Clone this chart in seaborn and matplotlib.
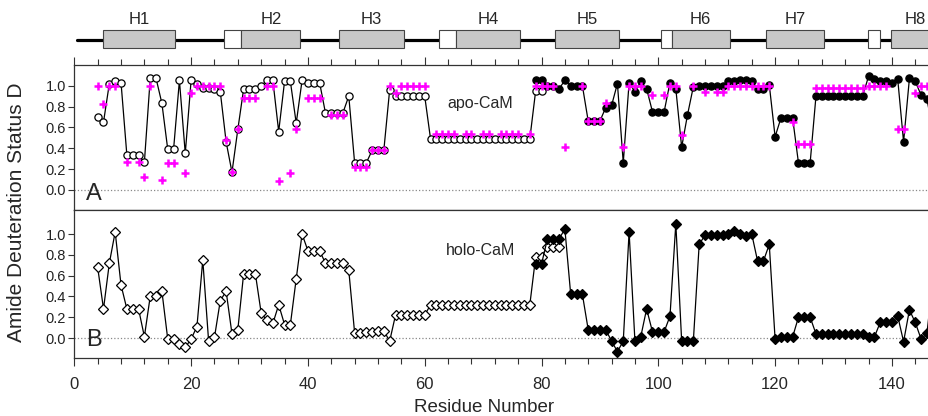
import numpy as np
import pandas as pd
import seaborn as sns
import matplotlib.pyplot as plt
from matplotlib.patches import Rectangle
from matplotlib.ticker import MultipleLocator

# helix schematic (residue ranges)
helix_names = ['H1', 'H2', 'H3', 'H4', 'H5', 'H6', 'H7', 'H8']
helix_start = [5.0, 28.6, 45.3, 65.4, 82.3, 102.3, 118.4, 139.9]
helix_end = [17.2, 38.7, 56.4, 76.4, 93.2, 112.2, 128.4, 148.0]
loop_start = [25.6, 62.4, 100.4, 135.9]
loop_end = [28.6, 65.4, 102.3, 137.9]

# panel A: apo-CaM
apo_open_res = np.arange(4, 81)
apo_open_val = [0.70, 0.65, 1.02, 1.04, 1.03, 0.335, 0.335,
                0.335, 0.265, 1.07, 1.07, 0.83, 0.39, 0.39, 1.05, 0.35, 1.05,
                1.02, 0.98, 0.98, 0.97, 0.94, 0.46, 0.17, 0.58, 0.97, 0.97,
                0.97, 1.00, 1.05, 1.05, 0.56, 1.04, 1.04, 0.64, 1.05, 1.03,
                1.03, 1.03, 0.74, 0.74, 0.74, 0.74, 0.90, 0.26, 0.26, 0.26,
                0.38, 0.38, 0.38, 0.96, 0.90, 0.90, 0.90, 0.90, 0.90, 0.90,
                0.49, 0.49, 0.49, 0.49, 0.49, 0.49, 0.49, 0.49, 0.49, 0.49,
                0.49, 0.49, 0.49, 0.49, 0.49, 0.49, 0.49, 0.49, 0.95, 0.95]
apo_fill_res = np.arange(79, 148)
apo_fill_val = [1.05, 1.05, 1.00, 1.00, 0.97, 1.05, 1.00, 1.00, 1.00, 0.66,
                0.66, 0.66, 0.79, 0.81, 1.02, 0.26, 1.03, 0.94, 1.04, 0.97,
                0.75, 0.75, 0.75, 1.03, 0.97, 0.41, 0.72, 0.99, 1.00, 1.00,
                1.00, 1.00, 1.00, 1.04, 1.04, 1.05, 1.05, 1.04, 0.97, 0.97,
                1.01, 0.51, 0.69, 0.69, 0.69, 0.26, 0.26, 0.26, 0.90, 0.90,
                0.90, 0.90, 0.90, 0.90, 0.90, 0.90, 0.90, 1.09, 1.06, 1.04,
                1.04, 1.03, 1.06, 0.46, 1.07, 1.04, 0.91, 0.87, 0.58]
cross_res = [4, 5, 6, 7, 9, 11, 12, 13, 15, 16, 17, 19, 20, 21, 22, 23, 24, 25,
             26, 27, 28, 29, 30, 31, 33, 34, 35, 37, 38, 40, 41, 42, 44, 45, 46,
             48, 49, 50, 51, 52, 53, 54, 55, 56, 57, 58, 59, 60, 62, 63, 64, 65,
             67, 68, 70, 71, 73, 74, 75, 76, 78, 79, 80, 81, 82, 84, 87, 88, 89,
             90, 91, 94, 95, 96, 97, 99, 101, 102, 103, 104, 106, 108, 110, 111,
             112, 113, 114, 115, 116, 117, 118, 119, 123, 124, 125, 126, 127,
             128, 129, 130, 131, 132, 133, 134, 135, 136, 137, 138, 139, 141,
             142, 144, 145, 146]
cross_val = [1.00, 0.82, 1.00, 1.00, 0.265, 0.265, 0.12, 1.00, 0.10, 0.255, 0.255,
             0.16, 0.93, 1.00, 1.00, 1.00, 1.00, 1.00, 0.48, 0.17, 0.58, 0.885,
             0.885, 0.885, 1.00, 1.00, 0.086, 0.16, 0.585, 0.885, 0.885, 0.885,
             0.72, 0.72, 0.72, 0.22, 0.22, 0.22, 0.38, 0.38, 0.38, 1.00, 0.93,
             1.00, 1.00, 1.00, 1.00, 1.00, 0.54, 0.54, 0.54, 0.54, 0.54, 0.54,
             0.54, 0.54, 0.54, 0.54, 0.54, 0.54, 0.54, 1.00, 1.00, 1.00, 1.00,
             0.41, 1.00, 0.66, 0.66, 0.66, 0.83, 0.41, 1.00, 1.00, 1.00, 0.91,
             0.91, 1.00, 1.00, 0.53, 1.00, 0.94, 0.94, 0.94, 1.00, 1.00, 1.00,
             1.00, 1.00, 1.00, 1.00, 1.00, 0.655, 0.44, 0.44, 0.44, 0.98, 0.98,
             0.98, 0.98, 0.98, 0.98, 0.98, 0.98, 0.98, 1.00, 1.00, 1.00, 1.00,
             0.585, 0.585, 0.93, 1.00, 1.00]

# panel B: holo-CaM
holo_open_res = np.arange(4, 84)
holo_open_val = [0.68, 0.28, 0.72, 1.02, 0.51, 0.28, 0.28, 0.28, 0.013, 0.40,
                 0.40, 0.45, -0.01, -0.01, -0.06, -0.09, -0.01, 0.11, 0.75, -0.03,
                 0.006, 0.36, 0.45, 0.04, 0.08, 0.62, 0.62, 0.62, 0.24, 0.17,
                 0.14, 0.32, 0.13, 0.13, 0.57, 1.00, 0.84, 0.84, 0.84, 0.72,
                 0.72, 0.72, 0.72, 0.65, 0.05, 0.05, 0.06, 0.06, 0.07, 0.07,
                 -0.03, 0.22, 0.22, 0.22, 0.22, 0.22, 0.22, 0.32, 0.32, 0.32,
                 0.32, 0.32, 0.32, 0.32, 0.32, 0.32, 0.32, 0.32, 0.32, 0.32,
                 0.32, 0.32, 0.32, 0.32, 0.32, 0.78, 0.78, 0.88, 0.88, 0.88]
holo_fill_res = np.arange(79, 148)
holo_fill_val = [0.71, 0.71, 0.95, 0.95, 0.95, 1.05, 0.42, 0.42, 0.42, 0.08,
                 0.08, 0.08, 0.08, -0.03, -0.13, -0.03, 1.02, -0.03, 0.013, 0.28,
                 0.06, 0.06, 0.06, 0.21, 1.10, -0.03, -0.03, -0.03, 0.90, 0.99,
                 0.99, 0.99, 0.99, 1.00, 1.03, 1.00, 0.98, 1.00, 0.74, 0.74,
                 0.90, -0.01, 0.01, 0.01, 0.01, 0.20, 0.20, 0.20, 0.04, 0.04,
                 0.04, 0.04, 0.04, 0.04, 0.04, 0.04, 0.04, 0.006, 0.01, 0.15,
                 0.15, 0.15, 0.21, -0.035, 0.27, 0.15, -0.01, 0.045, 0.55]

sns.set_style("ticks")
plt.rcParams['font.family'] = ['Liberation Sans', 'DejaVu Sans']

fig = plt.figure(figsize=(9.29, 4.16), dpi=100)
W, H = 929, 416
x0 = 74.3                 # pixel position of residue 0
ppr = 5.84                # pixels per residue
xmax = 150
ax_w = ppr * xmax / W

ax_top = fig.add_axes([x0 / W, 1 - 55 / H, ax_w, 55 / H])
ax_a = fig.add_axes([x0 / W, 1 - 210 / H, ax_w, 145 / H])
ax_b = fig.add_axes([x0 / W, 1 - 358 / H, ax_w, 148 / H])

# helix bar
ax_top.set_xlim(0, xmax)
ax_top.set_ylim(55, 0)
ax_top.axis('off')
ax_top.plot([0.4, xmax], [39.5, 39.5], color='black', lw=2.3, solid_capstyle='round')
for s, e in zip(loop_start, loop_end):
    ax_top.add_patch(Rectangle((s, 30), e - s, 18, facecolor='white',
                               edgecolor='#444444', lw=0.8, zorder=3))
for name, s, e in zip(helix_names, helix_start, helix_end):
    ax_top.add_patch(Rectangle((s, 30), e - s, 18, facecolor='#c8c8c8',
                               edgecolor='#444444', lw=0.8, zorder=3))
    ax_top.text((s + e) / 2, 20, name, ha='center', va='center', fontsize=12)


def draw_series(ax, res, val, marker, face, ms):
    d = pd.DataFrame({'res': res, 'val': val})
    sns.lineplot(data=d, x='res', y='val', ax=ax, color='black', lw=0.9,
                 marker=marker, markersize=ms, markerfacecolor=face,
                 markeredgecolor='black', markeredgewidth=0.9, sort=False, zorder=3)


ax_a.axhline(0, color='#888888', ls=':', lw=0.9, zorder=1)
draw_series(ax_a, apo_open_res, apo_open_val, 'o', 'white', 5.2)
draw_series(ax_a, apo_fill_res, apo_fill_val, 'o', 'black', 5.2)
sns.scatterplot(x=cross_res, y=cross_val, ax=ax_a, marker='+', s=34,
                color='#ff00ff', linewidth=1.8, zorder=4)

ax_b.axhline(0, color='#888888', ls=':', lw=0.9, zorder=1)
draw_series(ax_b, holo_open_res, holo_open_val, 'D', 'white', 4.6)
draw_series(ax_b, holo_fill_res, holo_fill_val, 'D', 'black', 4.6)

ax_a.set_ylim(-0.192, 1.198)
ax_b.set_ylim(-0.192, 1.231)
for ax in (ax_a, ax_b):
    ax.set_xlim(0, xmax)
    ax.set_xlabel('')
    ax.set_ylabel('')
    ax.set_yticks([0.0, 0.2, 0.4, 0.6, 0.8, 1.0])
    ax.set_yticklabels(['0.0', '0.2', '0.4', '0.6', '0.8', '1.0'])
    ax.xaxis.set_major_locator(MultipleLocator(20))
    ax.xaxis.set_minor_locator(MultipleLocator(4))
    ax.tick_params(axis='y', direction='out', length=4, width=0.8, labelsize=10.5,
                   pad=2, color='#333333', labelcolor='#222222')
    for sp in ax.spines.values():
        sp.set_linewidth(0.9)
        sp.set_color('#333333')
        sp.set_visible(True)

ax_a.tick_params(axis='x', which='both', bottom=False, labelbottom=False, top=True,
                 direction='out', color='#333333')
ax_a.tick_params(axis='x', which='major', length=6, width=0.8)
ax_a.tick_params(axis='x', which='minor', length=4, width=0.8)
ax_b.tick_params(axis='x', which='both', direction='out', top=False, bottom=True,
                 color='#333333')
ax_b.tick_params(axis='x', which='major', length=6, width=0.8, labelsize=12, pad=8)
ax_b.tick_params(axis='x', which='minor', length=4, width=0.8)

ax_a.text(2, -0.04, 'A', fontsize=17, ha='left', va='center')
ax_b.text(2, -0.02, 'B', fontsize=17, ha='left', va='center')
ax_a.text(69.5, 0.83, 'apo-CaM', fontsize=11.5, ha='center', va='center')
ax_b.text(69.5, 0.84, 'holo-CaM', fontsize=11.5, ha='center', va='center')

fig.text(484 / W, 1 - 407 / H, 'Residue Number', ha='center', va='center', fontsize=13.5)
fig.text(17 / W, 1 - 212 / H, 'Amide Deuteration Status D', ha='center', va='center',
         rotation=90, fontsize=15)

fig.savefig('out.png', dpi=100)
